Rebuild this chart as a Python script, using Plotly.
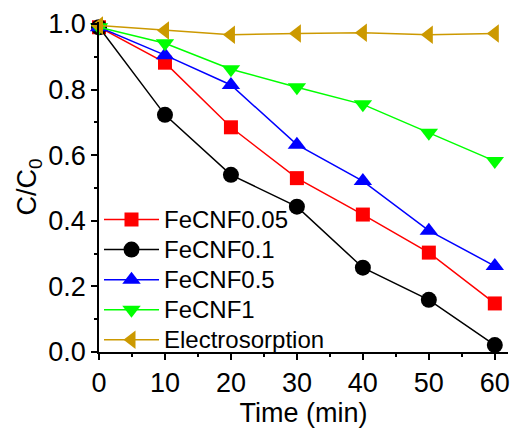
import plotly.graph_objects as go

time_min = [0, 10, 20, 30, 40, 50, 60]
fecnf005 = [0.99, 0.882, 0.685, 0.530, 0.419, 0.303, 0.148]
fecnf01 = [0.99, 0.723, 0.540, 0.443, 0.257, 0.159, 0.021]
fecnf05 = [0.99, 0.905, 0.814, 0.632, 0.521, 0.370, 0.262]
fecnf1 = [0.99, 0.941, 0.862, 0.807, 0.755, 0.668, 0.582]
electro = [0.995, 0.980, 0.967, 0.971, 0.973, 0.967, 0.971]

series = [
    ("FeCNF0.05", fecnf005, "#FF0000", "square", 14),
    ("FeCNF0.1", fecnf01, "#000000", "circle", 16),
    ("FeCNF0.5", fecnf05, "#0000FF", "triangle-up", 16),
    ("FeCNF1", fecnf1, "#00FF00", "triangle-down", 16),
    ("Electrosorption", electro, "#CC9900", "triangle-left", 16),
]

font_family = "Arial, Liberation Sans, sans-serif"

fig = go.Figure()
for i, (name, ys, color, sym, size) in enumerate(series):
    fig.add_trace(go.Scatter(
        x=time_min, y=ys,
        name=f'<span style="font-size:24px">{name}</span>',
        mode="lines+markers",
        line=dict(color=color, width=1.5),
        marker=dict(color=color, symbol=sym, size=size),
        cliponaxis=False,
    ))

fig.update_layout(
    width=514, height=428,
    margin=dict(l=99, r=4, t=22, b=76),
    paper_bgcolor="white", plot_bgcolor="white",
    font=dict(family=font_family, size=24, color="black"),
    showlegend=True,
    legend=dict(
        x=0.0, y=0.462, xanchor="left", yanchor="top",
        bgcolor="rgba(0,0,0,0)", font=dict(size=20.8),
        itemwidth=55,
    ),
    xaxis=dict(
        range=[0, 62], showgrid=False, zeroline=False,
        showline=True, linecolor="black", linewidth=1.5,
        ticks="outside", ticklen=6, tickwidth=1.5, tickcolor="black",
        dtick=10, tick0=0,
        minor=dict(ticks="outside", ticklen=3, tickwidth=1.5, dtick=5, tickcolor="black"),
        tickfont=dict(size=27),
        title=dict(text="Time (min)", font=dict(size=27), standoff=4),
    ),
    yaxis=dict(
        range=[0, 1.006], showgrid=False, zeroline=False,
        showline=True, linecolor="black", linewidth=1.5,
        ticks="outside", ticklen=6, tickwidth=1.5, tickcolor="black",
        dtick=0.2, tick0=0, tickformat=".1f",
        minor=dict(ticks="outside", ticklen=3, tickwidth=1.5, dtick=0.1, tickcolor="black"),
        tickfont=dict(size=27),
        title=dict(text="C/C<sub>0</sub>", font=dict(size=27), standoff=4),
    ),
)

fig.write_html("out.html")
